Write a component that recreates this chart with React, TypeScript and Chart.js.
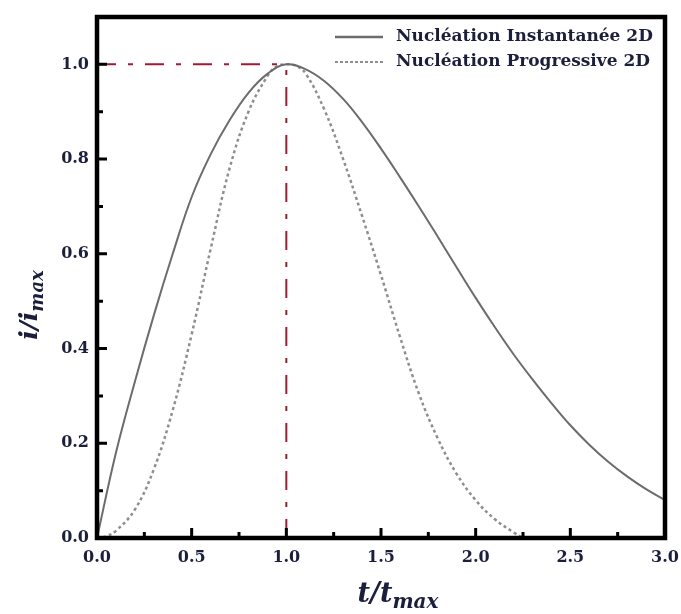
import React, { useEffect, useRef } from "react";
import { Chart, registerables } from "chart.js";

Chart.register(...registerables);

// ---- data ----
const instT = [0, 0.1, 0.2, 0.3, 0.4, 0.5, 0.6, 0.7, 0.8, 0.9, 1.0, 1.1, 1.2, 1.3, 1.4, 1.5, 1.6, 1.7, 1.8, 1.9, 2.0, 2.1, 2.2, 2.3, 2.4, 2.5, 2.6, 2.7, 2.8, 2.9, 3.0];
const instV = [0, 0.18, 0.33, 0.47, 0.6, 0.72, 0.81, 0.882, 0.94, 0.98, 1.0, 0.99, 0.965, 0.927, 0.878, 0.822, 0.762, 0.7, 0.636, 0.571, 0.507, 0.446, 0.388, 0.335, 0.285, 0.238, 0.197, 0.161, 0.13, 0.103, 0.08];

const progT = [0, 0.05, 0.1, 0.2, 0.3, 0.4, 0.5, 0.6, 0.7, 0.8, 0.9, 0.95, 1.0, 1.05, 1.1, 1.2, 1.3, 1.4, 1.5, 1.6, 1.7, 1.8, 1.9, 2.0, 2.1, 2.2, 2.25];
const progV = [0, 0.004, 0.015, 0.06, 0.145, 0.27, 0.43, 0.61, 0.78, 0.9, 0.975, 0.996, 1.0, 0.997, 0.982, 0.905, 0.8, 0.68, 0.555, 0.425, 0.305, 0.21, 0.135, 0.08, 0.04, 0.012, 0.0];

const seriesNames = ["Nucléation Instantanée 2D", "Nucléation Progressive 2D"];
const peakT = 1.0;
const peakV = 1.0;

const xTicks = [0, 0.5, 1.0, 1.5, 2.0, 2.5, 3.0];
const yTicks = [0, 0.2, 0.4, 0.6, 0.8, 1.0];
const xMinor = [0.25, 0.75, 1.25, 1.75, 2.25, 2.75];
const yMinor = [0.1, 0.3, 0.5, 0.7, 0.9];

const TEXT = "#1b1f3b";
const SERIF = "'DejaVu Serif', 'Liberation Serif', serif";

const framePlugin = {
  id: "frame",
  afterDraw(chart: any) {
    const { ctx, chartArea: a, scales } = chart;
    const xs = scales.x;
    const ys = scales.y;
    ctx.save();
    // inward ticks
    ctx.strokeStyle = "#000";
    ctx.lineWidth = 3;
    ctx.beginPath();
    yTicks.forEach((v) => {
      const y = ys.getPixelForValue(v);
      ctx.moveTo(a.left, y);
      ctx.lineTo(a.left + 10, y);
    });
    yMinor.forEach((v) => {
      const y = ys.getPixelForValue(v);
      ctx.moveTo(a.left, y);
      ctx.lineTo(a.left + 6, y);
    });
    xTicks.forEach((v) => {
      const x = xs.getPixelForValue(v);
      ctx.moveTo(x, a.bottom);
      ctx.lineTo(x, a.bottom - 10);
    });
    xMinor.forEach((v) => {
      const x = xs.getPixelForValue(v);
      ctx.moveTo(x, a.bottom);
      ctx.lineTo(x, a.bottom - 6);
    });
    ctx.stroke();
    // frame
    ctx.lineWidth = 4.5;
    ctx.strokeRect(a.left, a.top, a.right - a.left, a.bottom - a.top);

    // legend
    const ds = chart.data.datasets;
    [0, 1].forEach((i) => {
      const y = a.top + 20 + i * 25;
      ctx.beginPath();
      ctx.strokeStyle = ds[i].borderColor;
      ctx.lineWidth = i === 0 ? 2.5 : 2;
      ctx.setLineDash(i === 0 ? [] : [3, 2]);
      ctx.moveTo(335, y);
      ctx.lineTo(383, y);
      ctx.stroke();
      ctx.setLineDash([]);
      ctx.fillStyle = TEXT;
      ctx.font = `bold 17px ${SERIF}`;
      ctx.textAlign = "left";
      ctx.textBaseline = "middle";
      ctx.fillText(seriesNames[i], 396, y);
    });

    // axis titles with subscripts
    const drawTitle = (main: string, sub: string, mainSize: number, subSize: number) => {
      ctx.font = `italic bold ${mainSize}px ${SERIF}`;
      const w1 = ctx.measureText(main).width;
      ctx.font = `italic bold ${subSize}px ${SERIF}`;
      const w2 = ctx.measureText(sub).width;
      const start = -(w1 + w2) / 2;
      ctx.textAlign = "left";
      ctx.textBaseline = "alphabetic";
      ctx.font = `italic bold ${mainSize}px ${SERIF}`;
      ctx.fillText(main, start, 0);
      ctx.font = `italic bold ${subSize}px ${SERIF}`;
      ctx.fillText(sub, start + w1, mainSize * 0.22);
    };
    ctx.fillStyle = TEXT;
    ctx.save();
    ctx.translate(398, 602);
    drawTitle("t/t", "max", 27, 20);
    ctx.restore();
    ctx.save();
    ctx.translate(37, 305);
    ctx.rotate(-Math.PI / 2);
    drawTitle("i/i", "max", 25, 18);
    ctx.restore();

    ctx.restore();
  },
};

export default function App() {
  const ref = useRef<HTMLCanvasElement | null>(null);

  useEffect(() => {
    document.body.style.margin = "0";
    if (!ref.current) return;
    const chart = new Chart(ref.current, {
      type: "line",
      data: {
        datasets: [
          {
            label: seriesNames[0],
            data: instT.map((t, i) => ({ x: t, y: instV[i] })),
            borderColor: "#6c6c6c",
            borderWidth: 2,
            pointRadius: 0,
            tension: 0.4,
            fill: false,
          },
          {
            label: seriesNames[1],
            data: progT.map((t, i) => ({ x: t, y: progV[i] })),
            borderColor: "#8e8e8e",
            borderWidth: 2.5,
            borderDash: [3, 3],
            pointRadius: 0,
            tension: 0.4,
            fill: false,
          },
          {
            label: "ref-h",
            data: [
              { x: 0, y: peakV },
              { x: peakT, y: peakV },
            ],
            borderColor: "#9e1b32",
            borderWidth: 2,
            borderDash: [19, 12, 5, 12],
            pointRadius: 0,
            fill: false,
          },
          {
            label: "ref-v",
            data: [
              { x: peakT, y: 0 },
              { x: peakT, y: peakV },
            ],
            borderColor: "#9e1b32",
            borderWidth: 2,
            borderDash: [19, 12, 5, 12],
            pointRadius: 0,
            fill: false,
          },
        ],
      },
      options: {
        responsive: false,
        animation: false,
        devicePixelRatio: 1,
        layout: { padding: { top: 17, right: 16, left: 0, bottom: 0 } },
        plugins: { legend: { display: false }, tooltip: { enabled: false } },
        scales: {
          x: {
            type: "linear",
            min: 0,
            max: 3,
            afterBuildTicks: (s: any) => {
              s.ticks = xTicks.map((v) => ({ value: v }));
            },
            afterFit: (s: any) => {
              s.height = 76;
              s.paddingLeft = 0;
              s.paddingRight = 0;
            },
            grid: { display: false, drawTicks: false },
            border: { display: false },
            ticks: {
              autoSkip: false,
              maxRotation: 0,
              padding: 10,
              color: TEXT,
              font: { family: SERIF, weight: "bold", size: 16 },
              callback: (v: any) => Number(v).toFixed(1),
            },
          },
          y: {
            type: "linear",
            min: 0,
            max: 1.1,
            afterBuildTicks: (s: any) => {
              s.ticks = yTicks.map((v) => ({ value: v }));
            },
            afterFit: (s: any) => {
              s.width = 97;
              s.paddingTop = 0;
              s.paddingBottom = 0;
            },
            grid: { display: false, drawTicks: false },
            border: { display: false },
            ticks: {
              autoSkip: false,
              padding: 8,
              color: TEXT,
              font: { family: SERIF, weight: "bold", size: 16 },
              callback: (v: any) => Number(v).toFixed(1),
            },
          },
        },
      },
      plugins: [framePlugin],
    } as any);
    return () => chart.destroy();
  }, []);

  return (
    <div style={{ width: 681, height: 614 }}>
      <canvas ref={ref} width={681} height={614} style={{ display: "block" }} />
    </div>
  );
}
